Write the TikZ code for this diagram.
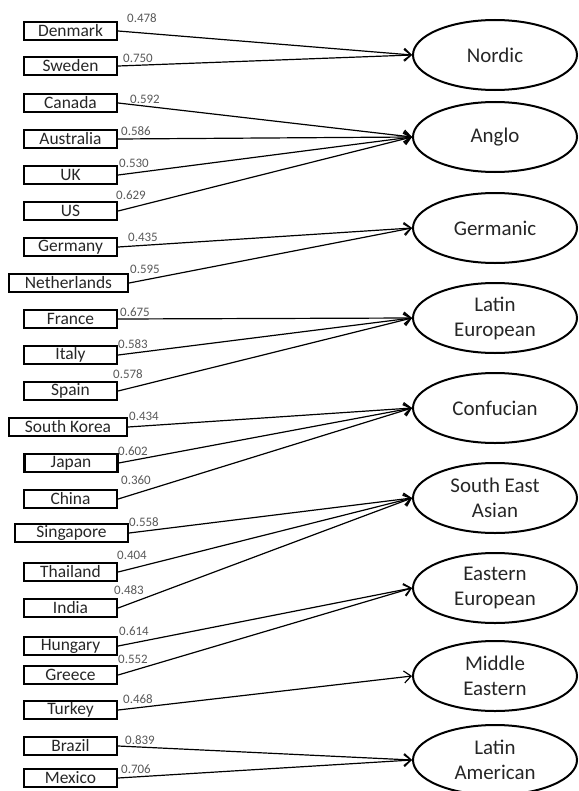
\documentclass[tikz,border=0pt]{standalone}
\usepackage{fontspec}
\setmainfont{Carlito}
\usetikzlibrary{shapes.geometric,arrows.meta}
\begin{document}
\begin{tikzpicture}[x=1bp,y=-1bp,
 cbox/.style={draw=black,line width=2.3bp,minimum width=93bp,minimum height=18bp,inner sep=0pt,font=\fontsize{17.5}{17.5}\selectfont,text=black!85},
 fac/.style={ellipse,draw=black,line width=2bp,minimum width=164bp,minimum height=70bp,inner sep=0pt,align=center,font=\fontsize{21}{25}\selectfont,text=black!85},
 lab/.style={font=\fontsize{13}{13}\selectfont,text=black!65,inner sep=0pt},
 conn/.style={line width=1.2bp,-{Straight Barb[length=7bp,width=12bp]}}]
\useasboundingbox (0,0) rectangle (579,791);
% factors
\node[fac] (nordic) at (495,55) {Nordic};
\node[fac] (anglo) at (495,137) {Anglo};
\node[fac] (germanic) at (495,228) {Germanic};
\node[fac] (latineu) at (495,318) {Latin\\European};
\node[fac] (confucian) at (495,408) {Confucian};
\node[fac] (seasian) at (495,498) {South East\\Asian};
\node[fac] (easteu) at (495,588) {Eastern\\European};
\node[fac] (mideast) at (495,676) {Middle\\Eastern};
\node[fac] (latinam) at (495,760) {Latin\\American};
% countries
\node[cbox] (denmark) at (70.5,31) {Denmark};
\node[cbox] (sweden) at (70.5,66) {Sweden};
\node[cbox] (canada) at (70.5,103) {Canada};
\node[cbox] (australia) at (70.5,139) {Australia};
\node[cbox] (uk) at (70.5,175) {UK};
\node[cbox] (us) at (70.5,211) {US};
\node[cbox] (germany) at (70.5,247) {Germany};
\node[cbox,minimum width=119bp] (netherlands) at (68.5,283) {Netherlands};
\node[cbox] (france) at (70.5,319) {France};
\node[cbox] (italy) at (70.5,355) {Italy};
\node[cbox] (spain) at (70.5,391) {Spain};
\node[cbox,minimum width=118bp] (skorea) at (68,427) {South Korea};
\node[cbox] (japan) at (71,463) {Japan};
\node[cbox] (china) at (70.5,499) {China};
\node[cbox,minimum width=113bp] (singapore) at (71.5,533) {Singapore};
\node[cbox] (thailand) at (70.5,572) {Thailand};
\node[cbox] (india) at (70.5,608) {India};
\node[cbox] (hungary) at (70.5,646) {Hungary};
\node[cbox] (greece) at (70.5,675) {Greece};
\node[cbox] (turkey) at (70.5,710) {Turkey};
\node[cbox] (brazil) at (70.5,746) {Brazil};
\node[cbox] (mexico) at (70.5,778) {Mexico};
% connectors
\draw[conn] (denmark.east) -- (nordic.west);
\draw[conn] (sweden.east) -- (nordic.west);
\draw[conn] (canada.east) -- (anglo.west);
\draw[conn] (australia.east) -- (anglo.west);
\draw[conn] (uk.east) -- (anglo.west);
\draw[conn] (us.east) -- (anglo.west);
\draw[conn] (germany.east) -- (germanic.west);
\draw[conn] (netherlands.east) -- (germanic.west);
\draw[conn] (france.east) -- (latineu.west);
\draw[conn] (italy.east) -- (latineu.west);
\draw[conn] (spain.east) -- (latineu.west);
\draw[conn] (skorea.east) -- (confucian.west);
\draw[conn] (japan.east) -- (confucian.west);
\draw[conn] (china.east) -- (confucian.west);
\draw[conn] (singapore.east) -- (seasian.west);
\draw[conn] (thailand.east) -- (seasian.west);
\draw[conn] (india.east) -- (seasian.west);
\draw[conn] (hungary.east) -- (easteu.west);
\draw[conn] (greece.east) -- (easteu.west);
\draw[conn] (turkey.east) -- (mideast.west);
\draw[conn] (brazil.east) -- (latinam.west);
\draw[conn] (mexico.east) -- (latinam.west);
% loadings
\node[lab] (l1) at (142,18) {0.478};
\node[lab] (l2) at (138,58) {0.750};
\node[lab] (l3) at (145,99) {0.592};
\node[lab] (l4) at (136,131) {0.586};
\node[lab] (l5) at (134,163) {0.530};
\node[lab] (l6) at (131,195) {0.629};
\node[lab] (l7) at (143,237) {0.435};
\node[lab] (l8) at (145,269) {0.595};
\node[lab] (l9) at (135,312) {0.675};
\node[lab] (l10) at (133,344) {0.583};
\node[lab] (l11) at (128,374) {0.578};
\node[lab] (l12) at (144,416) {0.434};
\node[lab] (l13) at (133,451) {0.602};
\node[lab] (l14) at (136,480) {0.360};
\node[lab] (l15) at (144,522) {0.558};
\node[lab] (l16) at (132,555) {0.404};
\node[lab] (l17) at (129,590) {0.483};
\node[lab] (l18) at (134,631) {0.614};
\node[lab] (l19) at (133,659) {0.552};
\node[lab] (l20) at (138,699) {0.468};
\node[lab] (l21) at (140,740) {0.839};
\node[lab] (l22) at (136,769) {0.706};
\end{tikzpicture}
\end{document}
